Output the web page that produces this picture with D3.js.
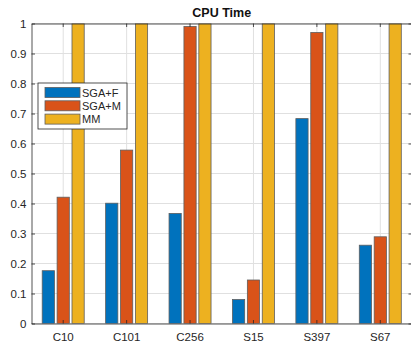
<!DOCTYPE html>
<html><head><meta charset="utf-8">
<script src="https://cdn.jsdelivr.net/npm/d3@7"></script>
<style>body{margin:0;background:#fff}svg{display:block}</style>
</head><body>
<script>
const categories = ["C10","C101","C256","S15","S397","S67"];
const seriesNames = ["SGA+F","SGA+M","MM"];
const sgaF = [0.176, 0.401, 0.367, 0.080, 0.683, 0.261];
const sgaM = [0.421, 0.578, 0.990, 0.145, 0.970, 0.289];
const mm   = [1, 1, 1, 1, 1, 1];
const yTicks = [0,0.1,0.2,0.3,0.4,0.5,0.6,0.7,0.8,0.9,1];
const yTickLabels = ["0","0.1","0.2","0.3","0.4","0.5","0.6","0.7","0.8","0.9","1"];
const colors = ["#0072BD","#D95319","#EDB120"];
const series = [sgaF, sgaM, mm];

const W=411,H=344;
const L=31.5,R=412,T=23.5,B=323.5;
const svg=d3.select("body").append("svg").attr("width",W).attr("height",H);
const font="'Liberation Sans', Arial, Helvetica, sans-serif";

const x=d3.scaleBand().domain(categories).range([L,R]).paddingInner(0).paddingOuter(0);
const y=d3.scaleLinear().domain([0,1]).range([B,T]);
const off=d3.scaleBand().domain(seriesNames).range([-21,21]).paddingInner(0.18);

svg.append("defs").append("clipPath").attr("id","clip").append("rect")
  .attr("x",L).attr("y",T).attr("width",R-L).attr("height",B-T);

const grid=svg.append("g").attr("stroke","#e0e0e0").attr("stroke-width",1);
yTicks.forEach(t=>grid.append("line").attr("x1",L).attr("x2",R).attr("y1",y(t)).attr("y2",y(t)));
categories.forEach(c=>{const cx=x(c)+x.bandwidth()/2;grid.append("line").attr("x1",cx).attr("x2",cx).attr("y1",T).attr("y2",B);});

const bars=svg.append("g").attr("clip-path","url(#clip)");
series.forEach((s,si)=>{
  bars.selectAll(null).data(s).enter().append("rect")
    .attr("x",(d,i)=>x(categories[i])+x.bandwidth()/2+off(seriesNames[si]))
    .attr("width",off.bandwidth())
    .attr("y",d=>y(d))
    .attr("height",d=>y(0)-y(d))
    .attr("fill",colors[si])
    .attr("stroke","#5e5e5e").attr("stroke-width",0.8);
});

const axCol="#262626";
const yAxis=d3.axisLeft(y).tickValues(yTicks).tickFormat((d,i)=>yTickLabels[i]).tickSizeInner(-3.5).tickSizeOuter(0).tickPadding(5);
const gy=svg.append("g").attr("transform",`translate(${L},0)`).call(yAxis);
const yAxisR=d3.axisRight(y).tickValues(yTicks).tickFormat("").tickSizeInner(-3.5).tickSizeOuter(0);
const gyr=svg.append("g").attr("transform",`translate(${R},0)`).call(yAxisR);
const xAxis=d3.axisBottom(x).tickSizeInner(-3.5).tickSizeOuter(0).tickPadding(8);
const gx=svg.append("g").attr("transform",`translate(0,${B})`).call(xAxis);
const xAxisT=d3.axisTop(x).tickSizeInner(-3.5).tickSizeOuter(0).tickFormat("");
const gxt=svg.append("g").attr("transform",`translate(0,${T})`).call(xAxisT);
[gy,gyr,gx,gxt].forEach(g=>{
  g.selectAll("path,line").attr("stroke",axCol).attr("stroke-width",0.8);
  g.selectAll("text").attr("fill",axCol).style("font-family",font).style("font-size","11.5px");
});
gx.selectAll("text").attr("y",17).attr("dy","0");

svg.append("text").attr("x",(L+R)/2).attr("y",17).attr("text-anchor","middle")
  .style("font-family",font).style("font-size","12.5px").style("font-weight","bold").attr("fill","#111")
  .text("CPU Time");

const lg=svg.append("g");
lg.append("rect").attr("x",38).attr("y",83).attr("width",89).attr("height",46)
  .attr("fill","#fff").attr("stroke",axCol).attr("stroke-width",0.8);
seriesNames.forEach((n,i)=>{
  const yy=87.5+i*13.3;
  lg.append("rect").attr("x",45).attr("y",yy).attr("width",35).attr("height",10)
    .attr("fill",colors[i]).attr("stroke","#5e5e5e").attr("stroke-width",0.8);
  lg.append("text").attr("x",82).attr("y",yy+9).style("font-family",font).style("font-size","11px")
    .attr("fill",axCol).text(n);
});
</script>
</body></html>
